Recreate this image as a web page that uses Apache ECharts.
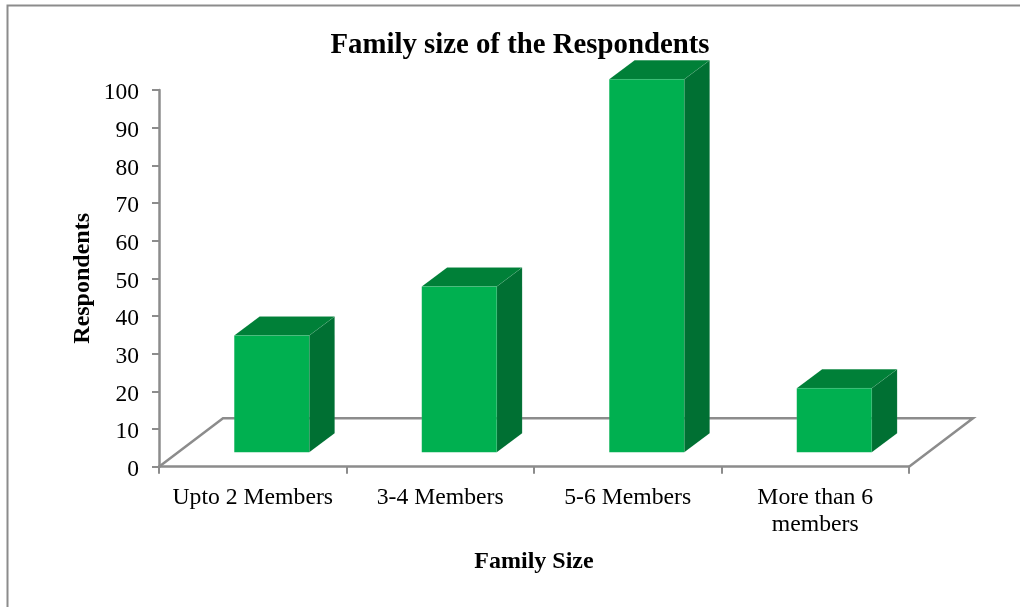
<!DOCTYPE html>
<html>
<head>
<meta charset="utf-8">
<style>html,body{margin:0;padding:0;background:#fff}#c{width:1020px;height:607px}</style>
<script src="https://cdn.jsdelivr.net/npm/echarts@6/dist/echarts.min.js"></script>
</head>
<body>
<div id="c"></div>
<script>
var categories = ['Upto 2 Members', '3-4 Members', '5-6 Members', 'More than 6\nmembers'];
var respondents = [31, 44, 99, 17];
var yTitle = 'Respondents';
var xTitle = 'Family Size';
var chartTitle = 'Family size of the Respondents';

var FONT = '"Liberation Serif","Times New Roman",serif';
var AXIS = '#8c8c8c';
var FRONT = '#00b050', TOP = '#008038', SIDE = '#007033';
var OFF_X = 19, OFF_Y = -14.4, DX = 25.4, DY = -19;
var FLOOR_DX = 64, FLOOR_DY = -48.4;

function barItem(params, api) {
  var cat = api.value(0), val = api.value(1);
  var base = api.coord([cat, 0]), top = api.coord([cat, val]);
  var w = api.size([1, 0])[0] * 0.4;
  var x0 = base[0] + OFF_X - w / 2, x1 = x0 + w;
  var yb = base[1] + OFF_Y, yt = top[1] + OFF_Y;
  var edge = {stroke: 'rgba(255,255,255,0.12)', lineWidth: 0.5};
  return {type: 'group', children: [
    {type: 'polygon', shape: {points: [[x1, yb], [x1 + DX, yb + DY], [x1 + DX, yt + DY], [x1, yt]]},
      style: Object.assign({fill: SIDE}, edge)},
    {type: 'polygon', shape: {points: [[x0, yt], [x1, yt], [x1 + DX, yt + DY], [x0 + DX, yt + DY]]},
      style: Object.assign({fill: TOP}, edge)},
    {type: 'rect', shape: {x: x0, y: yt, width: w, height: yb - yt},
      style: Object.assign({fill: FRONT}, edge)}
  ]};
}

function floorItem(params, api) {
  var band = api.size([1, 0])[0];
  var a = api.coord([0, 0]), b = api.coord([categories.length - 1, 0]);
  var ax = a[0] - band / 2, bx = b[0] + band / 2;
  return {type: 'polyline',
    shape: {points: [[ax, a[1]], [ax + FLOOR_DX, a[1] + FLOOR_DY], [bx + FLOOR_DX, b[1] + FLOOR_DY], [bx, b[1]]]},
    style: {fill: 'none', stroke: AXIS, lineWidth: 2.5}};
}

var chart = echarts.init(document.getElementById('c'), null, {renderer: 'canvas'});
chart.setOption({
  animation: false,
  backgroundColor: '#fff',
  title: {text: chartTitle, left: 515, textAlign: 'center', top: 26,
    textStyle: {fontFamily: FONT, fontSize: 28.8, fontWeight: 'bold', color: '#000'}},
  grid: {left: 159, right: 111, top: 90, bottom: 140.3},
  xAxis: {
    type: 'category', data: categories, boundaryGap: true,
    name: xTitle, nameLocation: 'middle', nameGap: 83,
    nameTextStyle: {fontFamily: FONT, fontSize: 24, fontWeight: 'bold', color: '#000'},
    axisLine: {lineStyle: {color: AXIS, width: 2.5}},
    axisTick: {show: true, alignWithLabel: false, interval: 0, length: 7, lineStyle: {color: AXIS, width: 2}},
    axisLabel: {fontFamily: FONT, fontSize: 23.7, color: '#000', margin: 18, lineHeight: 27, interval: 0}
  },
  yAxis: {
    type: 'value', min: 0, max: 100, interval: 10,
    name: yTitle, nameLocation: 'middle', nameGap: 64, nameRotate: 90, nameMoveOverlap: false,
    nameTextStyle: {fontFamily: FONT, fontSize: 24, fontWeight: 'bold', color: '#000'},
    splitLine: {show: false},
    axisLine: {show: true, lineStyle: {color: AXIS, width: 2.5}},
    axisTick: {show: true, length: 7, lineStyle: {color: AXIS, width: 2}},
    axisLabel: {fontFamily: FONT, fontSize: 23.5, color: '#000', margin: 20, verticalAlign: 'top', lineHeight: 6}
  },
  series: [
    {type: 'custom', coordinateSystem: 'cartesian2d', clip: false, z: 1, silent: true,
      renderItem: floorItem, data: [[0, 0]]},
    {type: 'custom', coordinateSystem: 'cartesian2d', clip: false, z: 3, silent: true,
      renderItem: barItem, encode: {x: 0, y: 1},
      data: respondents.map(function (v, i) { return [i, v]; })}
  ],
  graphic: [{type: 'polyline', silent: true,
    shape: {points: [[7.5, 607], [7.5, 5.5], [1020, 5.5]]},
    style: {fill: 'none', stroke: AXIS, lineWidth: 2}}]
});
</script>
</body>
</html>
